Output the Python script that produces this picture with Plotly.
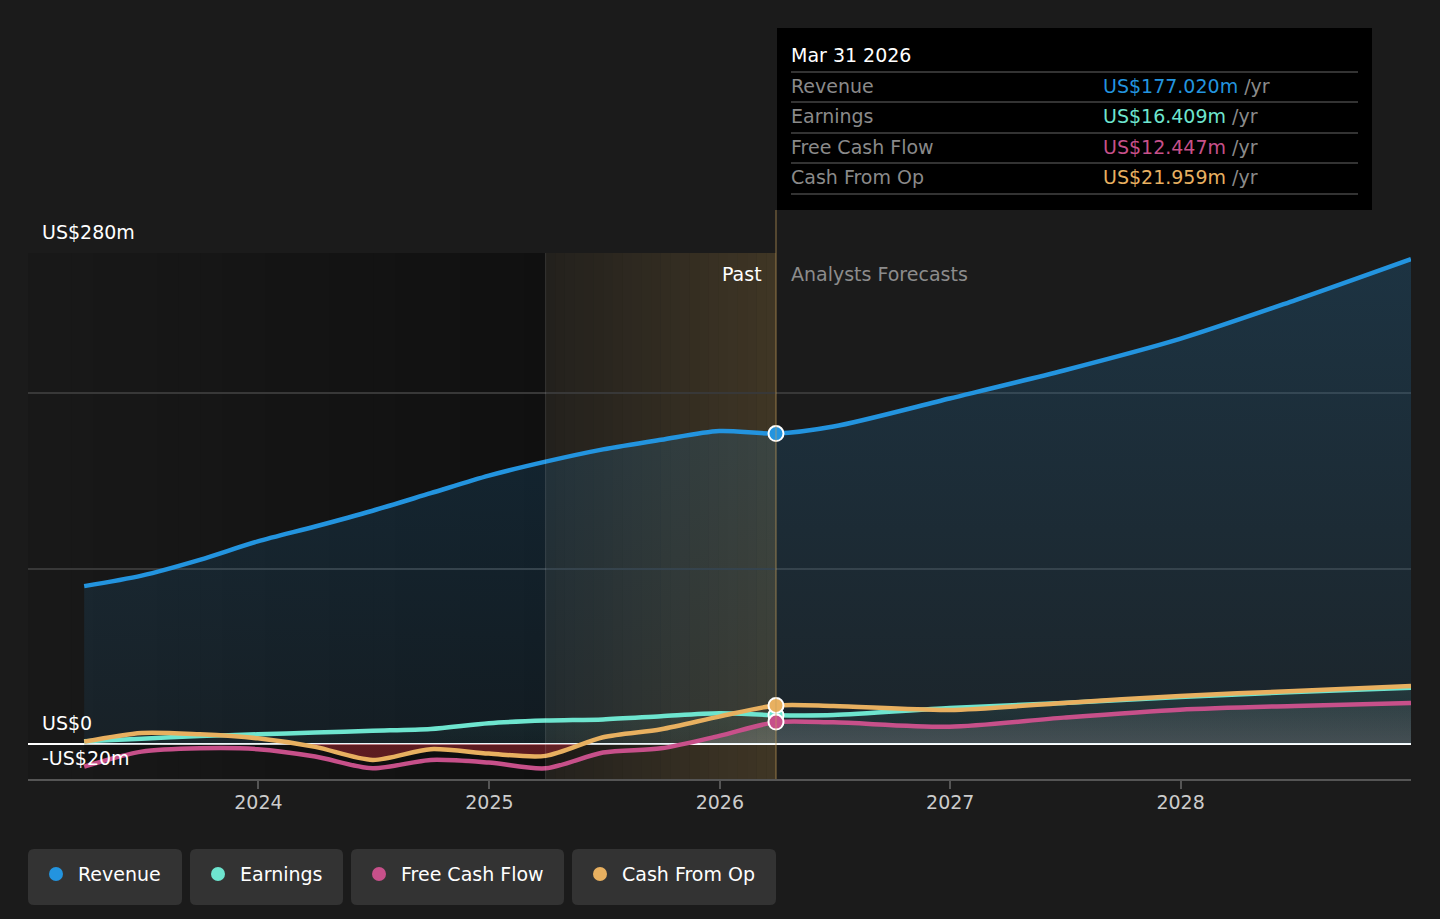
import pandas as pd
import plotly.graph_objects as go

# ---- data (US$ m, trailing twelve months) ----
past_dates = ["2023-03-31", "2023-06-30", "2023-09-30", "2023-12-31",
              "2024-03-31", "2024-06-30", "2024-09-30", "2024-12-31",
              "2025-03-31", "2025-06-30", "2025-09-30", "2025-12-31",
              "2026-03-31"]
fc_dates = ["2026-03-31", "2026-06-30", "2026-12-31", "2027-06-30",
            "2027-12-31", "2028-06-30", "2028-12-31"]

revenue_past = [90, 96, 105, 115.5, 124, 133, 143, 153, 161, 168, 173.5, 178.5, 177.02]
revenue_fc = [177.02, 181, 197, 213, 231, 253, 276.5]

earnings_past = [1.5, 3, 4.5, 5.5, 6.5, 7.5, 8.5, 11.8, 13.3, 14, 15.8, 17.5, 16.409]
earnings_fc = [16.409, 16.5, 20.5, 23.4, 26.8, 29.6, 32]

fcf_past = [-12.9, -4.4, -2.5, -3, -7.2, -13.9, -9.1, -10.6, -13.9, -4.9, -2.5, 4.6, 12.447]
fcf_fc = [12.447, 12.3, 9.8, 15.0, 19.5, 21.7, 23.4]

cfo_past = [1.3, 6.3, 5.5, 3.2, -1.7, -9.1, -3, -5.5, -6.8, 3.8, 8.4, 15.6, 21.959]
cfo_fc = [21.959, 21.7, 19.4, 23.4, 27.4, 30.2, 33]

series = [
    ("Revenue", revenue_past, revenue_fc, "#2394df", "US$177.020m"),
    ("Earnings", earnings_past, earnings_fc, "#6ee5cf", "US$16.409m"),
    ("Free Cash Flow", fcf_past, fcf_fc, "#c7508a", "US$12.447m"),
    ("Cash From Op", cfo_past, cfo_fc, "#e8b060", "US$21.959m"),
]

year_ticks = ["2024-01-01", "2025-01-01", "2026-01-01", "2027-01-01", "2028-01-01"]
year_labels = ["2024", "2025", "2026", "2027", "2028"]

X_START, X_END = "2023-01-01", "2028-12-31"
HIGHLIGHT_START, NOW = "2025-03-31", "2026-03-31"

BG = "#1b1b1b"
FONT = "DejaVu Sans"
FS = 19

# plot area in pixels
L, R, T, B = 28, 1411, 253, 779


def px(x):
    return (x - L) / (R - L)


def py(y):
    return (B - y) / (B - T)


fig = go.Figure()

# fills + lines
all_dates = past_dates + fc_dates[1:]
fills = {
    "Revenue": dict(type="vertical", start=0, stop=280,
                    colorscale=[[0, "rgba(35,148,223,0.08)"], [1, "rgba(35,148,223,0.20)"]]),
    "Earnings": dict(type="vertical", start=0, stop=35,
                     colorscale=[[0, "rgba(110,229,207,0.03)"], [1, "rgba(110,229,207,0.10)"]]),
    "Free Cash Flow": dict(type="vertical", start=-20, stop=30,
                           colorscale=[[0, "rgba(0,0,0,0.2)"], [0.399, "rgba(0,0,0,0.2)"],
                                       [0.401, "rgba(255,255,255,0.17)"], [1, "rgba(255,255,255,0.03)"]]),
    "Cash From Op": dict(type="vertical", start=-20, stop=40,
                         colorscale=[[0, "rgba(170,40,50,0.5)"], [0.332, "rgba(170,40,50,0.5)"],
                                     [0.334, "rgba(0,0,0,0)"], [1, "rgba(0,0,0,0)"]]),
}
for name, past, fc, color, _ in series:
    vals = past + fc[1:]
    fig.add_trace(go.Scatter(
        x=all_dates, y=vals, mode="lines", name=name,
        line=dict(color=color, width=4.5, shape="spline", smoothing=0.8),
        fill="tozeroy", fillgradient=fills[name], hoverinfo="skip", showlegend=False))

# markers at the latest reported point
for name, past, fc, color, _ in series:
    fig.add_trace(go.Scatter(
        x=[NOW], y=[past[-1]], mode="markers",
        marker=dict(size=15, color=color, line=dict(color="white", width=2)),
        hoverinfo="skip", showlegend=False))

shapes = []

# darkened past region (gradient)
t0 = pd.Timestamp(X_START)
t1 = pd.Timestamp(HIGHLIGHT_START)
n = 24
for i in range(n):
    a = t0 + (t1 - t0) * i / n
    b = t0 + (t1 - t0) * (i + 1) / n
    op = 0.08 + 0.30 * i / (n - 1)
    shapes.append(dict(type="rect", xref="x", yref="paper", x0=a, x1=b, y0=0, y1=1,
                       fillcolor=f"rgba(0,0,0,{op:.3f})", line=dict(width=0), layer="below"))

# highlighted last year (gradient)
t2 = pd.Timestamp(NOW)
for i in range(n):
    a = t1 + (t2 - t1) * i / n
    b = t1 + (t2 - t1) * (i + 1) / n
    op = 0.05 + 0.16 * i / (n - 1)
    shapes.append(dict(type="rect", xref="x", yref="paper", x0=a, x1=b, y0=0, y1=1,
                       fillcolor=f"rgba(200,155,75,{op:.3f})", line=dict(width=0), layer="below"))

# vertical markers
shapes.append(dict(type="line", xref="x", yref="paper", x0=HIGHLIGHT_START, x1=HIGHLIGHT_START,
                   y0=0, y1=1, line=dict(color="rgba(255,255,255,0.13)", width=1)))
shapes.append(dict(type="line", xref="x", yref="paper", x0=NOW, x1=NOW,
                   y0=0, y1=py(210), line=dict(color="rgba(200,160,90,0.45)", width=1.5)))

# tooltip box
shapes.append(dict(type="rect", xref="paper", yref="paper", x0=px(777), x1=px(1372),
                   y0=py(210), y1=py(28), fillcolor="#000000", line=dict(width=0)))
for yy in [72, 102, 133, 163, 194]:
    shapes.append(dict(type="line", xref="paper", yref="paper", x0=px(791), x1=px(1358),
                       y0=py(yy), y1=py(yy), line=dict(color="#444444", width=1.5)))

annotations = []


def label(text, x, y, color, size=FS, anchor="left"):
    # annotations carry ~2px of padding, compensate so x is the ink edge
    x = x - 2 if anchor == "left" else x + 2
    annotations.append(dict(text=text, x=px(x), y=py(y), xref="paper", yref="paper",
                            xanchor=anchor, yanchor="middle", showarrow=False,
                            font=dict(family=FONT, size=size, color=color)))


label("Mar 31 2026", 791, 55, "#ffffff")
for (name, _, _, color, val), yy in zip(series, [86, 116, 147, 177]):
    label(name, 791, yy, "#8a8a8a")
    label(f"<span style='color:{color}'>{val}</span> /yr", 1103, yy, "#8a8a8a")

label("Past", 762, 274, "#ffffff", anchor="right")
label("Analysts Forecasts", 791, 274, "#8c8c8c")

label("US$280m", 42, 232, "#ffffff")
label("US$0", 42, 723, "#ffffff")
label("-US$20m", 42, 758, "#ffffff")


# legend as rounded boxes
def rrect(x0, y0, x1, y1, r):
    X0, X1 = px(x0), px(x1)
    Y0, Y1 = py(y1), py(y0)
    rx = r / (R - L)
    ry = r / (B - T)
    return (f"M {X0+rx},{Y0} L {X1-rx},{Y0} Q {X1},{Y0} {X1},{Y0+ry} "
            f"L {X1},{Y1-ry} Q {X1},{Y1} {X1-rx},{Y1} L {X0+rx},{Y1} "
            f"Q {X0},{Y1} {X0},{Y1-ry} L {X0},{Y0+ry} Q {X0},{Y0} {X0+rx},{Y0} Z")


legend_boxes = [(28, 182), (190, 343), (351, 564), (572, 776)]
for (name, _, _, color, _), (bx0, bx1) in zip(series, legend_boxes):
    shapes.append(dict(type="path", xref="paper", yref="paper", path=rrect(bx0, 849, bx1, 905, 6),
                       fillcolor="#333333", line=dict(width=0)))
    cx = bx0 + 28
    shapes.append(dict(type="circle", xref="paper", yref="paper",
                       x0=px(cx - 7), x1=px(cx + 7), y0=py(881), y1=py(867),
                       fillcolor=color, line=dict(width=0)))
    label(name, cx + 22, 874, "#ffffff")

fig.update_layout(
    width=1440, height=919,
    margin=dict(l=L, r=1440 - R, t=T, b=919 - B),
    paper_bgcolor=BG, plot_bgcolor=BG,
    font=dict(family=FONT, color="#cccccc"),
    shapes=shapes, annotations=annotations,
    showlegend=False,
    xaxis=dict(type="date", range=[X_START, X_END], tickvals=year_ticks, ticktext=year_labels,
               showgrid=False, showline=True, linecolor="#555555", linewidth=1.5,
               ticks="outside", ticklen=8, tickcolor="#555555", tickwidth=1.5,
               ticklabelstandoff=-3,
               tickfont=dict(family=FONT, size=FS, color="#cccccc"), zeroline=False,
               fixedrange=True),
    yaxis=dict(range=[-20, 280], tickvals=[-20, 0, 100, 200, 280], showticklabels=False,
               gridcolor="#383838", gridwidth=1.5, zeroline=True, zerolinecolor="#ffffff",
               zerolinewidth=2, showline=False, fixedrange=True),
)

# no page margin so the figure sits at the window's top-left corner
fig.write_html("out.html", config={"displayModeBar": False},
               post_script="document.body.style.margin='0';"
                           "document.body.style.background='%s';" % BG)
